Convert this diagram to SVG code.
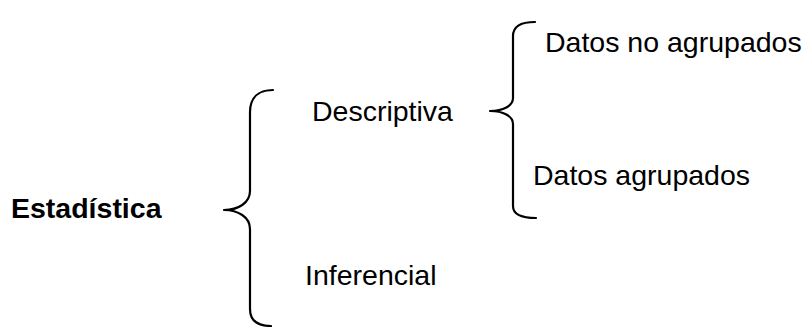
<svg xmlns="http://www.w3.org/2000/svg" width="808" height="327" viewBox="0 0 808 327">
  <style>
    .label { font-family: "Liberation Sans", Arial, sans-serif; font-size: 28.5px; fill: #000; }
    .root { font-weight: bold; }
    .brace { fill: none; stroke: #000; stroke-width: 2.2; stroke-linecap: round; stroke-linejoin: round; }
  </style>
  <rect width="808" height="327" fill="#fff"/>

  <!-- braces connecting each level to its subdivisions -->
  <g id="connectors">
    <path class="brace" d="M273,90 C258,90 250,98 250,112 L250,191 C250,203 238,210 224,210 C238,210 250,217 250,229 L250,309 C250,321 258,326 271,326"/>
    <path class="brace" d="M535,22 C519,22 513,27 513,36 L513,98 C513,106 503,111 490,111 C503,111 513,116 513,124 L513,206 C513,214 520,218 536,218"/>
  </g>

  <g id="estadistica">
    <text class="label root" x="11" y="218">Estadística</text>
  </g>
  <g id="descriptiva">
    <text class="label" x="312" y="121">Descriptiva</text>
  </g>
  <g id="inferencial">
    <text class="label" x="305" y="285">Inferencial</text>
  </g>
  <g id="datos-no-agrupados">
    <text class="label" x="545" y="52">Datos no agrupados</text>
  </g>
  <g id="datos-agrupados">
    <text class="label" x="533" y="185">Datos agrupados</text>
  </g>
</svg>
